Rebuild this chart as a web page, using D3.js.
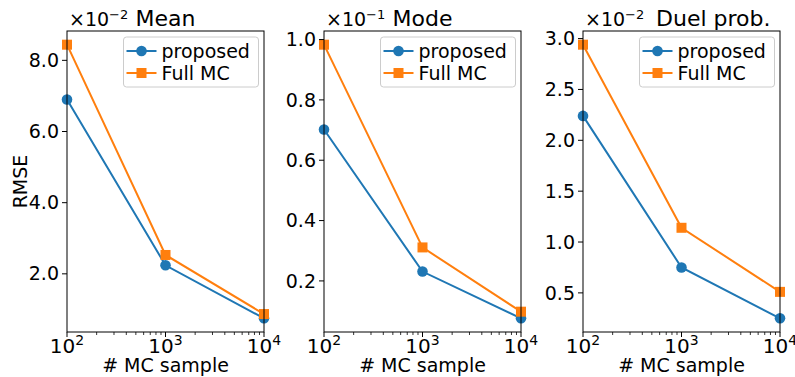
<!DOCTYPE html>
<html>
<head>
<meta charset="utf-8">
<script src="https://cdn.jsdelivr.net/npm/d3@7"></script>
<style>
  body { margin: 0; background: #fff; }
  svg { display: block; font-family: "DejaVu Sans", sans-serif; }
</style>
</head>
<body>
<svg width="795" height="377"></svg>
<script>
const samples = [100, 1000, 10000];
const seriesNames = ["proposed", "Full MC"];
const titles = ["Mean", "Mode", "Duel prob."];
const exponents = [-2, -1, -2];

const meanProposed = [0.0690, 0.0224, 0.0075];
const meanFullMC = [0.0844, 0.0253, 0.0087];
const modeProposed = [0.0702, 0.0231, 0.0076];
const modeFullMC = [0.0983, 0.0311, 0.0098];
const duelProposed = [0.0224, 0.0075, 0.0025];
const duelFullMC = [0.0294, 0.0114, 0.0051];

const meanTicks = [0.02, 0.04, 0.06, 0.08];
const modeTicks = [0.02, 0.04, 0.06, 0.08, 0.10];
const duelTicks = [0.005, 0.010, 0.015, 0.020, 0.025, 0.030];

const panels = [
  { title: titles[0], exp: exponents[0], series: [meanProposed, meanFullMC], ticks: meanTicks },
  { title: titles[1], exp: exponents[1], series: [modeProposed, modeFullMC], ticks: modeTicks },
  { title: titles[2], exp: exponents[2], series: [duelProposed, duelFullMC], ticks: duelTicks }
];

const colors = ["#1f77b4", "#ff7f0e"];
const lefts = [67, 324, 583];
const pw = 197, plotTop = 31, plotBottom = 332;
const tickFont = 19;

const svg = d3.select("svg");

panels.forEach((p, i) => {
  const x0 = lefts[i];
  const g = svg.append("g").attr("transform", `translate(${x0},0)`);

  const xScale = d3.scaleLog().domain([100, 10000]).range([0, pw]);
  const all = p.series.flat();
  const lo = d3.min(all), hi = d3.max(all), pad = (hi - lo) * 0.05;
  const yScale = d3.scaleLinear().domain([lo - pad, hi + pad]).range([plotBottom, plotTop]);

  // lines + markers
  p.series.forEach((vals, s) => {
    const pts = samples.map((n, k) => [xScale(n), yScale(vals[k])]);
    g.append("path")
      .attr("d", d3.line()(pts))
      .attr("fill", "none")
      .attr("stroke", colors[s])
      .attr("stroke-width", 2);
    if (s === 0) {
      g.selectAll(".c").data(pts).enter().append("circle")
        .attr("cx", d => d[0]).attr("cy", d => d[1]).attr("r", 5.3)
        .attr("fill", colors[s]);
    } else {
      g.selectAll(".sq").data(pts).enter().append("rect")
        .attr("x", d => d[0] - 5).attr("y", d => d[1] - 5)
        .attr("width", 10).attr("height", 10)
        .attr("fill", colors[s]);
    }
  });

  // spines
  g.append("rect")
    .attr("x", 0).attr("y", plotTop).attr("width", pw).attr("height", plotBottom - plotTop)
    .attr("fill", "none").attr("stroke", "#000").attr("stroke-width", 1);

  // x axis
  const xAxis = g.append("g").attr("transform", `translate(0,${plotBottom})`);
  const minor = [];
  [100, 1000].forEach(b => { for (let m = 2; m < 10; m++) minor.push(b * m); });
  xAxis.selectAll(".minor").data(minor).enter().append("line")
    .attr("x1", d => xScale(d)).attr("x2", d => xScale(d))
    .attr("y1", 0).attr("y2", 3).attr("stroke", "#000").attr("stroke-width", 0.8);
  const xt = xAxis.selectAll(".major").data(samples).enter().append("g")
    .attr("transform", d => `translate(${xScale(d)},0)`);
  xt.append("line").attr("y2", 5).attr("stroke", "#000").attr("stroke-width", 1);
  const xl = xt.append("text").attr("y", 21).attr("text-anchor", "middle")
    .attr("font-size", 20);
  xl.append("tspan").text("10");
  xl.append("tspan").attr("dy", -8).attr("font-size", 14).text(d => Math.round(Math.log10(d)));

  g.append("text").attr("x", pw / 2).attr("y", 372).attr("text-anchor", "middle")
    .attr("font-size", tickFont).text("# MC sample");

  // y axis
  const scale = Math.pow(10, -p.exp);
  const yt = g.selectAll(".yt").data(p.ticks).enter().append("g")
    .attr("transform", d => `translate(0,${yScale(d)})`);
  yt.append("line").attr("x2", -5).attr("stroke", "#000").attr("stroke-width", 1);
  yt.append("text").attr("x", -8).attr("dy", "0.35em").attr("text-anchor", "end")
    .attr("font-size", tickFont).text(d => (d * scale).toFixed(1));

  // offset text
  const ot = g.append("text").attr("x", 2).attr("y", 26).attr("font-size", 19);
  ot.append("tspan").text("\u00d710");
  ot.append("tspan").attr("dy", -7).attr("font-size", 13).text("\u2212" + (-p.exp));

  // title
  if (i === 2) {
    g.append("text").attr("x", 73).attr("y", 26).attr("font-size", 22).text(p.title);
  } else {
    g.append("text").attr("x", pw / 2).attr("y", 26).attr("text-anchor", "middle")
      .attr("font-size", 22).text(p.title);
  }

  // legend
  const lw = 135, lh = 50;
  const lg = g.append("g").attr("transform", `translate(${pw - 5.5 - lw},${plotTop + 6})`);
  lg.append("rect").attr("width", lw).attr("height", lh).attr("rx", 3)
    .attr("fill", "#fff").attr("fill-opacity", 0.8)
    .attr("stroke", "#ccc").attr("stroke-width", 1);
  seriesNames.forEach((name, s) => {
    const cy = 14 + s * 22;
    lg.append("line").attr("x1", 3).attr("x2", 33).attr("y1", cy).attr("y2", cy)
      .attr("stroke", colors[s]).attr("stroke-width", 2);
    if (s === 0) {
      lg.append("circle").attr("cx", 18).attr("cy", cy).attr("r", 5.3).attr("fill", colors[s]);
    } else {
      lg.append("rect").attr("x", 13).attr("y", cy - 5).attr("width", 10).attr("height", 10)
        .attr("fill", colors[s]);
    }
    lg.append("text").attr("x", 38).attr("y", cy).attr("dy", "0.35em")
      .attr("font-size", 19).text(name);
  });
});

// y label
svg.append("text")
  .attr("transform", `translate(27,${(plotTop + plotBottom) / 2}) rotate(-90)`)
  .attr("text-anchor", "middle").attr("font-size", tickFont).text("RMSE");
</script>
</body>
</html>
